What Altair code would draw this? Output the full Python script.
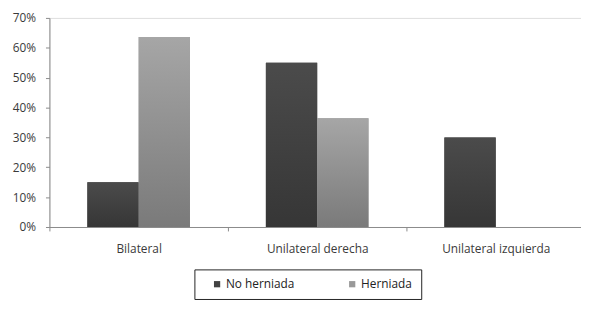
import altair as alt
import pandas as pd

categories = ["Bilateral", "Unilateral derecha", "Unilateral izquierda"]
series = ["No herniada", "Herniada"]
no_herniada = [0.15, 0.55, 0.30]
herniada = [0.636, 0.364, 0.0]

rows = []
for c, a, b in zip(categories, no_herniada, herniada):
    rows.append({"cat": c, "serie": series[0], "val": a})
    rows.append({"cat": c, "serie": series[1], "val": b})
df = pd.DataFrame(rows)

FONT = "Open Sans"
TXT = "#3a3a3a"
FS = 12

x_enc = alt.X("cat:N", sort=categories, title=None,
              scale=alt.Scale(paddingInner=0, paddingOuter=0, range=[0, 543]),
              axis=alt.Axis(labelAngle=0, tickBand="extent", domainColor="#8a8a8a",
                            tickColor="#8a8a8a", tickSize=4, labelPadding=13,
                            labelFontSize=FS, labelColor=TXT, labelFont=FONT))
xo_enc = alt.XOffset("serie:N", sort=series,
                     scale=alt.Scale(domain=series, paddingInner=0, paddingOuter=0.74))
y_enc = alt.Y("val:Q", title=None,
              scale=alt.Scale(domain=[0, 0.7], nice=False),
              axis=alt.Axis(format=".0%", values=[0, 0.1, 0.2, 0.3, 0.4, 0.5, 0.6, 0.7],
                            grid=False, domainColor="#8a8a8a", tickColor="#8a8a8a",
                            tickSize=4, labelPadding=10, labelFontSize=FS,
                            labelColor=TXT, labelFont=FONT))

base = alt.Chart(df).mark_bar().encode(
    x=x_enc, xOffset=xo_enc, y=y_enc,
    color=alt.Color("serie:N", sort=series,
                    scale=alt.Scale(domain=series, range=["#424242", "#999999"]),
                    legend=alt.Legend(title=None, orient="none", legendX=147, legendY=255,
                                      direction="horizontal", strokeColor="#222222",
                                      fillColor="white", padding=9, symbolType="square",
                                      symbolSize=40, symbolStrokeWidth=0, symbolOffset=8,
                                      labelFontSize=FS, labelColor="#222222",
                                      labelFont=FONT, columnPadding=44, labelOffset=3)),
)

grad_dark = alt.LinearGradient(gradient="linear", x1=0, y1=0, x2=0, y2=1,
                               stops=[alt.GradientStop(color="#4b4b4b", offset=0),
                                      alt.GradientStop(color="#363636", offset=1)])
grad_light = alt.LinearGradient(gradient="linear", x1=0, y1=0, x2=0, y2=1,
                                stops=[alt.GradientStop(color="#a6a6a6", offset=0),
                                       alt.GradientStop(color="#7a7a7a", offset=1)])

dark = alt.Chart(df).transform_filter(alt.datum.serie == series[0]).mark_bar(
    color=grad_dark).encode(x=x_enc, xOffset=xo_enc, y=y_enc)
light = alt.Chart(df).transform_filter(alt.datum.serie == series[1]).mark_bar(
    color=grad_light).encode(x=x_enc, xOffset=xo_enc, y=y_enc)

chart = alt.layer(base, dark, light).properties(
    width=539, height=212,
    autosize=alt.AutoSizeParams(type="none"),
    padding={"left": 42, "top": 8, "right": 0, "bottom": 74},
).configure_view(stroke=None).configure(background="white")

chart.save("out.html", embed_options={"renderer": "svg", "actions": False})
